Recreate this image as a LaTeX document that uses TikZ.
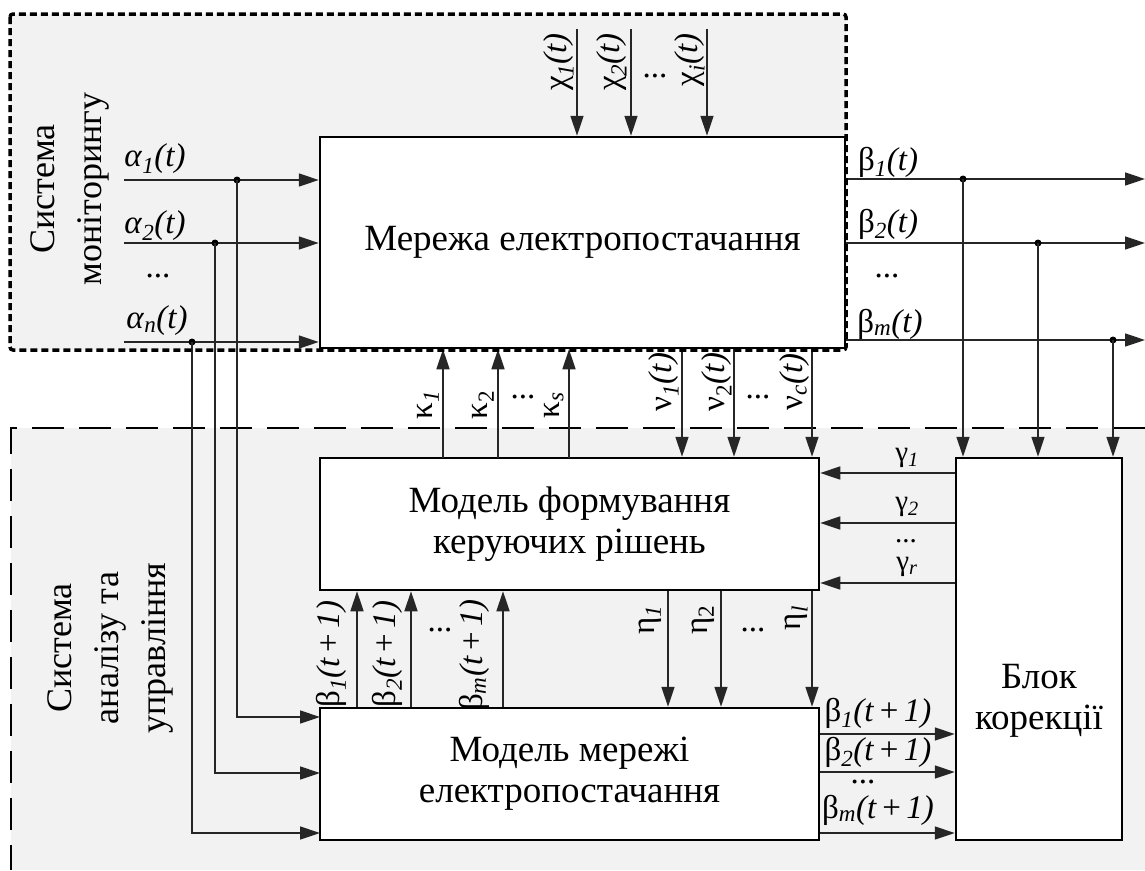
\documentclass[tikz,border=0pt]{standalone}
\usepackage{fontspec}
\setmainfont{Liberation Serif}
\usetikzlibrary{arrows.meta,calc}
\definecolor{bg}{HTML}{F2F2F2}
\begin{document}
\begin{tikzpicture}[x=1pt,y=-1pt,
 box/.style={draw=black,line width=2.5pt,fill=white,inner sep=0pt},
 con/.style={line width=1.5pt,draw=black!85},
 arr/.style={con,-{Triangle[length=20pt,width=13pt]}},
 dotj/.style={circle,fill=black,inner sep=0pt,minimum size=7pt},
 lab/.style={font=\fontsize{33}{35}\selectfont,inner sep=0pt},
 slab/.style={font=\fontsize{29}{30}\selectfont,inner sep=0pt},
 rlab/.style={lab,rotate=90},
 big/.style={font=\fontsize{37}{41}\selectfont,align=center},
 bigr/.style={font=\fontsize{36}{47}\selectfont,align=center,rotate=90}
]
\useasboundingbox (0,0) rectangle (1145,870);
% regions
\fill[bg,rounded corners=3pt] (10,14) rectangle (846,350);
\fill[bg] (11,428) rectangle (1145,870);
\draw[line width=2.5pt,dash pattern=on 32pt off 15pt] (1145,428) -- (11,428) -- (11,870);

% boxes
\node[box,minimum width=525pt,minimum height=211pt] (mreza) at (582.5,242.5) {};
\node[big] (mrezat) at (582.5,242.5) {Мережа електропостачання};
\node[box,minimum width=499pt,minimum height=132pt] (formuv) at (569.5,524) {};
\node[big] (formuvt) at (569.5,524) {Модель формування\\керуючих рішень};
\node[box,minimum width=499pt,minimum height=132pt] (merezhi) at (569.5,774) {};
\node[big] (merezhit) at (569.5,774) {Модель мережі\\електропостачання};
\node[box,minimum width=166pt,minimum height=382pt] (blok) at (1039,649) {};
\node[big] (blokt) at (1039,701) {Блок\\корекції};

% region titles
\node[bigr] (tmon) at (70,189) {Система\\моніторингу};
\node[bigr] (tan) at (110,648) {Система\\аналізу та\\управління};

% alpha inputs
\coordinate (a1) at (124,180);
\coordinate (a2) at (124,243);
\coordinate (an) at (124,342);
\draw[arr] (a1) -- (a1 -| mreza.west);
\draw[arr] (a2) -- (a2 -| mreza.west);
\draw[arr] (an) -- (an -| mreza.west);
\node[dotj] (ja1) at (237,180) {};
\node[dotj] (ja2) at (215,243) {};
\node[dotj] (jan) at (192,342) {};
\coordinate (m1) at (320,717);
\coordinate (m2) at (320,773);
\coordinate (mn) at (320,833);
\draw[arr] (ja1.center) |- (m1);
\draw[arr] (ja2.center) |- (m2);
\draw[arr] (jan.center) |- (mn);
\node[lab] (la1) at (155,159) {\textit{α}\textsubscript{\textit{1}}\textit{(t)}};
\node[lab] (la2) at (155,226) {\textit{α}\textsubscript{\textit{2}}\textit{(t)}};
\node[lab] (lad) at (158,276) {...};
\node[lab] (lan) at (157,321) {\textit{α}\textsubscript{\textit{n}}\textit{(t)}};

% chi inputs
\coordinate (c1) at (577,29);
\coordinate (c2) at (631,29);
\coordinate (ci) at (707,29);
\draw[arr] (c1) -- (c1 |- mreza.north);
\draw[arr] (c2) -- (c2 |- mreza.north);
\draw[arr] (ci) -- (ci |- mreza.north);
\node[rlab] (lc1) at (559,62) {χ\textsubscript{\textit{1}}\textit{(t)}};
\node[rlab] (lc2) at (612,62) {χ\textsubscript{\textit{2}}\textit{(t)}};
\node[lab] (lcd) at (655,76) {...};
\node[rlab] (lci) at (690,60) {χ\textsubscript{\textit{i}}\textit{(t)}};

% beta outputs
\coordinate (b1) at (1145,179);
\coordinate (b2) at (1145,243);
\coordinate (bm) at (1145,340);
\draw[arr] (mreza.east |- b1) -- (b1);
\draw[arr] (mreza.east |- b2) -- (b2);
\draw[arr] (mreza.east |- bm) -- (bm);
\node[dotj] (jb1) at (963,179) {};
\node[dotj] (jb2) at (1038,243) {};
\node[dotj] (jbm) at (1113,340) {};
\draw[arr] (jb1.center) -- (jb1 |- blok.north);
\draw[arr] (jb2.center) -- (jb2 |- blok.north);
\draw[arr] (jbm.center) -- (jbm |- blok.north);
\node[lab] (lb1) at (888,162) {β\textsubscript{\textit{1}}\textit{(t)}};
\node[lab] (lb2) at (888,224) {β\textsubscript{\textit{2}}\textit{(t)}};
\node[lab] (lbd) at (887,276) {...};
\node[lab] (lbm) at (890,324) {β\textsubscript{\textit{m}}\textit{(t)}};

% kappa
\coordinate (k1) at (443,458);
\coordinate (k2) at (498,458);
\coordinate (ks) at (569,458);
\draw[arr] (k1) -- (k1 |- mreza.south);
\draw[arr] (k2) -- (k2 |- mreza.south);
\draw[arr] (ks) -- (ks |- mreza.south);
\node[rlab] (lk1) at (428,405) {κ\textsubscript{\textit{1}}};
\node[rlab] (lk2) at (483,405) {κ\textsubscript{2}};
\node[lab] (lkd) at (523,397) {...};
\node[rlab] (lks) at (554,405) {κ\textsubscript{\textit{s}}};

% nu
\coordinate (n1) at (682,400);
\coordinate (n2) at (734,400);
\coordinate (nc) at (812,400);
\draw[arr] (n1 |- mreza.south) -- (n1 |- formuv.north);
\draw[arr] (n2 |- mreza.south) -- (n2 |- formuv.north);
\draw[arr] (nc |- mreza.south) -- (nc |- formuv.north);
\node[rlab] (ln1) at (664,382) {ν\textsubscript{\textit{1}}\textit{(t)}};
\node[rlab] (ln2) at (717,382) {ν\textsubscript{2}\textit{(t)}};
\node[lab] (lnd) at (758,397) {...};
\node[rlab] (lnc) at (795,382) {ν\textsubscript{\textit{c}}\textit{(t)}};

% gamma
\coordinate (g1) at (900,473);
\coordinate (g2) at (900,523);
\coordinate (gr) at (900,583);
\draw[arr] (blok.west |- g1) -- (formuv.east |- g1);
\draw[arr] (blok.west |- g2) -- (formuv.east |- g2);
\draw[arr] (blok.west |- gr) -- (formuv.east |- gr);
\node[slab] (lg1) at (907,458) {γ\textsubscript{\textit{1}}};
\node[slab] (lg2) at (907,507) {γ\textsubscript{\textit{2}}};
\node[slab] (lgd) at (906,541) {...};
\node[slab] (lgr) at (907,567) {γ\textsubscript{\textit{r}}};

% eta
\coordinate (e1) at (668,650);
\coordinate (e2) at (721,650);
\coordinate (el) at (812,650);
\draw[arr] (e1 |- formuv.south) -- (e1 |- merezhi.north);
\draw[arr] (e2 |- formuv.south) -- (e2 |- merezhi.north);
\draw[arr] (el |- formuv.south) -- (el |- merezhi.north);
\node[rlab] (le1) at (650,620) {η\textsubscript{\textit{1}}};
\node[rlab] (le2) at (703,620) {η\textsubscript{2}};
\node[lab] (led) at (753,630) {...};
\node[rlab] (lel) at (796,618) {η\textsubscript{\textit{l}}};

% beta(t+1) up
\coordinate (u1) at (357,650);
\coordinate (u2) at (411,650);
\coordinate (um) at (503,650);
\draw[arr] (u1 |- merezhi.north) -- (u1 |- formuv.south);
\draw[arr] (u2 |- merezhi.north) -- (u2 |- formuv.south);
\draw[arr] (um |- merezhi.north) -- (um |- formuv.south);
\node[rlab] (lu1) at (331,654) {β\textsubscript{\textit{1}}\textit{(t}\,+\,\textit{1)}};
\node[rlab] (lu2) at (387,654) {β\textsubscript{\textit{2}}\textit{(t}\,+\,\textit{1)}};
\node[lab] (lud) at (440,630) {...};
\node[rlab] (lum) at (474,655) {β\textsubscript{\textit{m}}\textit{(t}\,+\,\textit{1)}};

% beta(t+1) right
\coordinate (r1) at (880,734);
\coordinate (r2) at (880,772);
\coordinate (rm) at (880,833);
\draw[arr] (merezhi.east |- r1) -- (blok.west |- r1);
\draw[arr] (merezhi.east |- r2) -- (blok.west |- r2);
\draw[arr] (merezhi.east |- rm) -- (blok.west |- rm);
\node[lab] (lr1) at (878,713) {β\textsubscript{\textit{1}}\textit{(t}\,+\,\textit{1)}};
\node[lab] (lr2) at (878,752) {β\textsubscript{\textit{2}}\textit{(t}\,+\,\textit{1)}};
\node[lab] (lrd) at (863,782) {...};
\node[lab] (lrm) at (878,810) {β\textsubscript{\textit{m}}\textit{(t}\,+\,\textit{1)}};

% dotted border of monitoring region on top
\draw[line width=3.5pt,dash pattern=on 7pt off 4pt,rounded corners=3pt] (10,14) rectangle (846,350);
\end{tikzpicture}
\end{document}
